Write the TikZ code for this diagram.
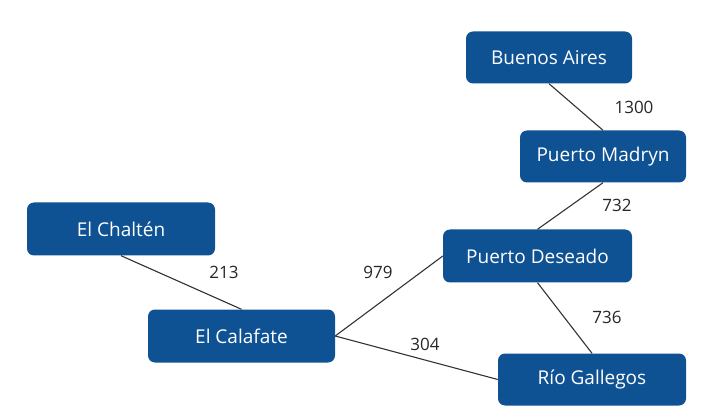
\documentclass[tikz,border=0pt]{standalone}
\usepackage{fontspec}
\setmainfont{Open Sans}
\definecolor{nodeblue}{HTML}{0F5294}
\definecolor{edgegray}{HTML}{333333}
\begin{document}
\begin{tikzpicture}[x=1pt,y=-1pt,
  city/.style={draw=none,fill=nodeblue,rounded corners=7pt,text=white,
    font=\fontsize{19}{21}\selectfont,inner sep=0pt,anchor=center},
  road/.style={draw=edgegray,line width=1.1pt},
  dist/.style={text=black!85,font=\fontsize{17}{19}\selectfont,inner sep=0pt,anchor=center}]
\useasboundingbox (0,0) rectangle (714,419);
\node[city,minimum width=166pt,minimum height=52pt] (ba) at (549,57.5) {Buenos Aires};
\node[city,minimum width=166pt,minimum height=52pt] (pm) at (603,156.5) {Puerto Madryn};
\node[city,minimum width=188pt,minimum height=53pt] (ch) at (121,229) {El Chaltén};
\node[city,minimum width=187pt,minimum height=53pt] (cal) at (241.5,336) {El Calafate};
\node[city,minimum width=189pt,minimum height=53pt] (pd) at (537.5,256) {Puerto Deseado};
\node[city,minimum width=188pt,minimum height=52pt] (rg) at (592,379.5) {Río Gallegos};
\draw[road] (ba.south) -- (pm.north);
\draw[road] (pm.south) -- (pd.north);
\draw[road] (ch.south) -- (cal.north);
\draw[road] (cal.east) -- (pd.west);
\draw[road] (cal.east) -- (rg.west);
\draw[road] (pd.south) -- (rg.north);
\node[dist] (l1300) at (634,107.5) {1300};
\node[dist] (l732) at (617,205.5) {732};
\node[dist] (l213) at (224,272.5) {213};
\node[dist] (l979) at (378,272.5) {979};
\node[dist] (l304) at (425,344.5) {304};
\node[dist] (l736) at (607,317.5) {736};
\end{tikzpicture}
\end{document}
